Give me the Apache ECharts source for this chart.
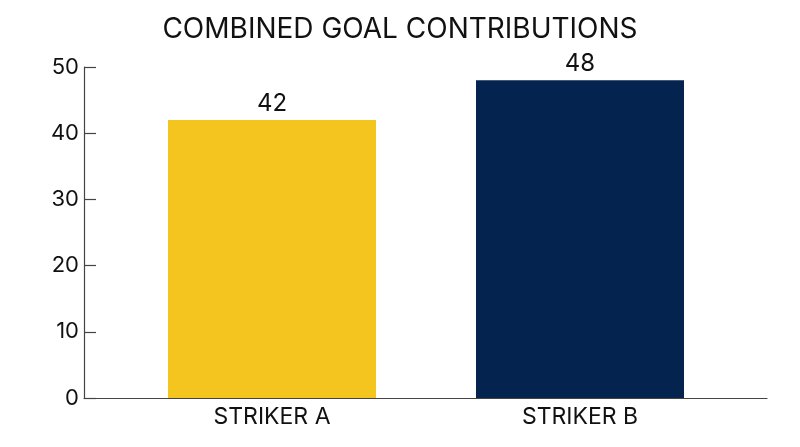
<!DOCTYPE html>
<html>
<head>
<meta charset="utf-8">
<script src="https://cdn.jsdelivr.net/npm/echarts@6/dist/echarts.min.js"></script>
<style>
html,body{margin:0;padding:0;background:#fff;}
#chart{width:800px;height:447px;}
</style>
</head>
<body>
<div id="chart"></div>
<script>
const titleText = 'COMBINED GOAL CONTRIBUTIONS';
const categories = ['STRIKER A', 'STRIKER B'];
const values = [42, 48];
const barColors = ['#F4C51F', '#05234F'];
const yMin = 0, yMax = 50, yStep = 10;

const font = 'Inter, "Noto Sans", sans-serif';
const chart = echarts.init(document.getElementById('chart'), null, {renderer: 'canvas'});
chart.setOption({
  backgroundColor: '#ffffff',
  animation: false,
  textStyle: {fontFamily: font},
  title: {
    text: titleText,
    left: 'center',
    top: 11,
    textStyle: {fontFamily: font, fontSize: 28, fontWeight: 'normal', color: '#111'}
  },
  grid: [
    {left: 84, right: 33, top: 67, bottom: 49, containLabel: false},
    {left: 118, right: 66, top: 67, bottom: 49, containLabel: false}
  ],
  xAxis: [
    {
      gridIndex: 0, type: 'category', data: categories,
      axisLine: {show: true, lineStyle: {color: '#444', width: 1.2}},
      axisTick: {show: false}, axisLabel: {show: false}
    },
    {
      gridIndex: 1, type: 'category', data: categories,
      axisLine: {show: false}, axisTick: {show: false},
      axisLabel: {show: true, fontSize: 23, color: '#111', margin: 8, fontFamily: font}
    }
  ],
  yAxis: [
    {
      gridIndex: 0, type: 'value', min: yMin, max: yMax, interval: yStep,
      axisLine: {show: true, lineStyle: {color: '#444', width: 1.2}},
      axisTick: {show: true, inside: true, length: 12, lineStyle: {color: '#444', width: 1.2}},
      axisLabel: {fontSize: 22, color: '#111', margin: 5, fontFamily: font},
      splitLine: {show: false}
    },
    {
      gridIndex: 1, type: 'value', min: yMin, max: yMax, interval: yStep,
      show: false, splitLine: {show: false}
    }
  ],
  series: [{
    type: 'bar',
    xAxisIndex: 1, yAxisIndex: 1,
    barWidth: 208,
    data: values.map((v, i) => ({value: v, itemStyle: {color: barColors[i]}})),
    label: {show: true, position: 'top', distance: 4, fontSize: 24, color: '#111', fontFamily: font}
  }]
});
</script>
</body>
</html>
